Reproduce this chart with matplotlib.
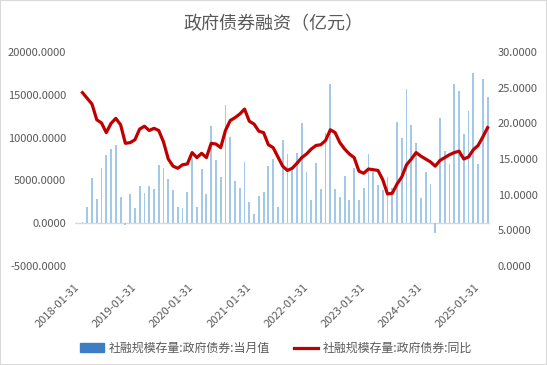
import numpy as np
import pandas as pd
import matplotlib
matplotlib.use("Agg")
from matplotlib import pyplot as plt
from matplotlib.patches import Patch, Rectangle
from matplotlib.lines import Line2D
from matplotlib.ticker import FormatStrFormatter

plt.rcParams['font.family'] = ['Noto Sans CJK SC', 'DejaVu Sans']

# monthly data, 2018-01 .. 2025-03
months = pd.date_range("2018-01-31", "2025-03-31", freq="ME")

# 社融规模存量:政府债券:当月值 (亿元)
monthly_value = [
    50, 200, 1880, 5330, 2810, 6490, 7965, 8660, 9130, 3040, -250, 3470,
    1760, 4360, 3510, 4360, 3970, 6800, 6490, 5140, 3860, 1920, 1760, 3700,
    7660, 1880, 6380, 3390, 11380, 7420, 5410, 13820, 10060, 4980, 4090, 7190,
    2460, 1070, 3160, 3700, 6690, 7540, 1840, 9750, 8080, 6300, 8200, 11730,
    6030, 2770, 7070, 3970, 10520, 16220, 4050, 3120, 5560, 2770, 6450, 2770,
    4170, 8080, 6030, 4480, 3930, 5450, 4170, 11800, 9980, 15640, 11450, 9360,
    3000, 6030, 4590, -1130, 12270, 8470, 6960, 16220, 15390, 10470, 13060, 17560,
    6860, 16900, 14770,
]

# 社融规模存量:政府债券:同比 (%), first month missing
yoy = [
    np.nan, 24.3, 23.5, 22.7, 20.5, 20.05, 18.7, 20.0, 20.7, 19.8, 17.2, 17.3,
    17.7, 19.2, 19.6, 19.0, 19.3, 19.0, 17.4, 15.0, 14.0, 13.7, 14.2, 14.3,
    15.9, 15.2, 15.8, 15.2, 17.2, 17.1, 16.6, 19.0, 20.4, 20.8, 21.3, 22.0,
    20.3, 19.9, 18.9, 18.7, 17.0, 16.6, 15.3, 14.0, 13.4, 13.7, 14.4, 15.2,
    15.7, 16.4, 16.9, 17.0, 17.6, 19.1, 18.7, 17.3, 16.4, 15.7, 15.2, 13.3,
    13.0, 13.6, 13.5, 13.4, 12.1, 10.1, 10.2, 11.5, 12.5, 14.2, 15.0, 15.9,
    15.4, 15.0, 14.6, 14.0, 14.8, 15.2, 15.6, 15.9, 16.1, 15.0, 15.3, 16.3,
    16.9, 18.1, 19.4,
]

tick_labels = [d.strftime("%Y-%m-%d") for d in months if d.month == 1]

grey = '#595959'
x = np.arange(len(months))

fig = plt.figure(figsize=(5.47, 3.65), dpi=100)
ax = fig.add_axes([0.1377, 0.2712, 0.7581, 0.5863])
ax2 = ax.twinx()

ax.bar(x, monthly_value, width=0.38, color='#A3C8E8', zorder=2)
ax.axhline(0, color='#D9D9D9', lw=1, zorder=1)
ax2.plot(x, yoy, color='#C00000', lw=2.3, solid_joinstyle='round')

ax.set_xlim(-0.5, len(months) - 0.5)
ax.set_ylim(-5000, 20000)
ax.set_yticks(np.arange(-5000, 20001, 5000))
ax2.set_ylim(0, 30)
ax2.set_yticks(np.arange(0, 31, 5))
ax.yaxis.set_major_formatter(FormatStrFormatter('%.4f'))
ax2.yaxis.set_major_formatter(FormatStrFormatter('%.4f'))

ax.set_xticks(x[::12])
ax.set_xticklabels(tick_labels, rotation=45, ha='right', va='center',
                   rotation_mode='anchor')

for a in (ax, ax2):
    for s in a.spines.values():
        s.set_visible(False)
ax.tick_params(axis='y', length=0, pad=6.5, labelsize=8, labelcolor=grey)
ax2.tick_params(axis='y', length=0, pad=5.5, labelsize=8, labelcolor=grey)
ax.tick_params(axis='x', length=0, pad=14, labelsize=8, labelcolor=grey)

fig.text(0.5, 0.935, '政府债券融资（亿元）', ha='center', va='center',
         fontsize=13, color=grey)

handles = [Patch(color='#3C7DC4'), Line2D([], [], color='#C00000', lw=2.3)]
fig.legend(handles, ['社融规模存量:政府债券:当月值', '社融规模存量:政府债券:同比'],
           loc='center', bbox_to_anchor=(0.505, 0.046), ncol=2, frameon=False,
           fontsize=8.6, labelcolor=grey, handlelength=2.0, handleheight=0.7,
           columnspacing=2.0, handletextpad=0.4)

fig.patches.append(Rectangle((0, 0), 1, 1, transform=fig.transFigure,
                             fill=False, ec='#D9D9D9', lw=1.5))

fig.savefig("out.png", dpi=100)
